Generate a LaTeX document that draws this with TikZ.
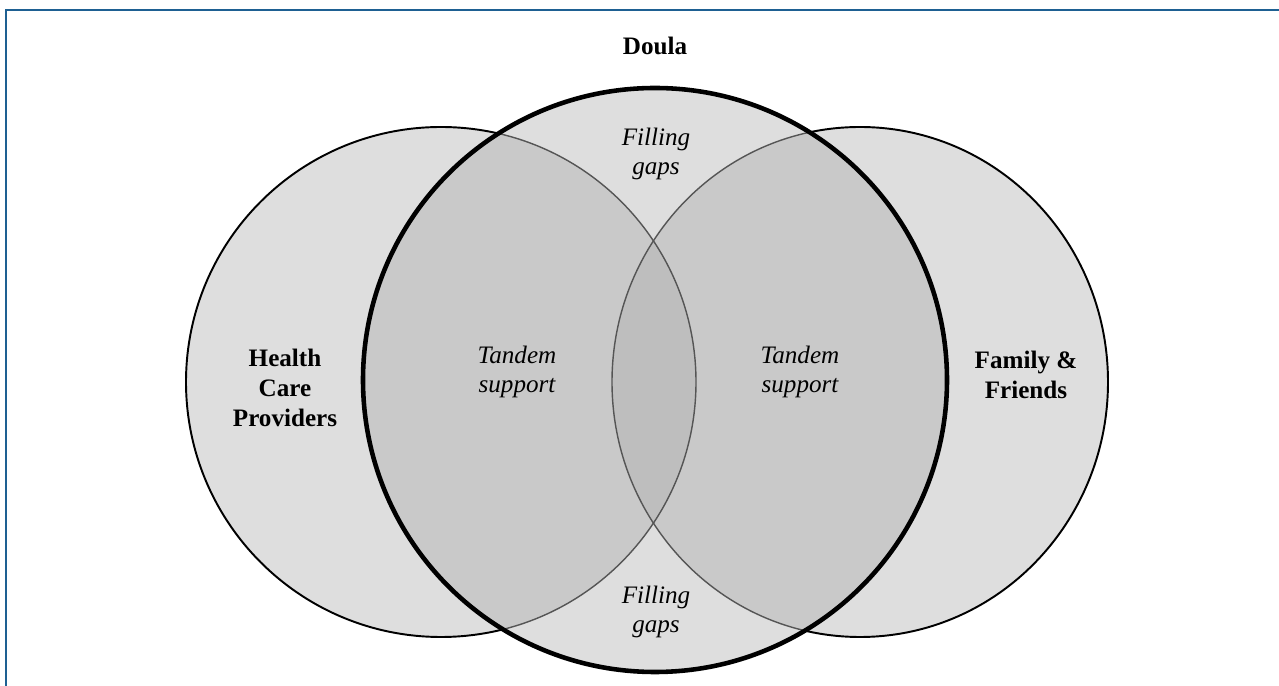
\documentclass[tikz,border=0pt]{standalone}
\usepackage{fontspec}
\setmainfont{Liberation Serif}
\definecolor{frameblue}{RGB}{30,96,146}
\definecolor{onefill}{RGB}{222,222,222}
\definecolor{twofill}{RGB}{201,201,201}
\definecolor{threefill}{RGB}{190,190,190}
\definecolor{innerline}{RGB}{85,85,85}

\begin{document}
\begin{tikzpicture}[x=0.02cm,y=0.02cm,
    group/.style ={align=center, font=\fontsize{14.3pt}{17pt}\selectfont\bfseries},
    role/.style ={align=center, font=\fontsize{14.3pt}{17pt}\selectfont\itshape},
    outer/.style ={draw=black, line width=1.1pt},
    inner/.style ={draw=innerline, line width=0.8pt}]
   \useasboundingbox (0,0) rectangle (1279,686);
   \draw[frameblue, line width=0.85pt] (6,0) -- (6,676) -- (1279,676);

   \coordinate (care) at (441,304);
   \coordinate (family) at (860,304);
   \coordinate (doula) at (655,306);

   % single areas
   \fill[onefill] (care) circle (255);
   \fill[onefill] (family) circle [x radius=248, y radius=255];
   \fill[onefill] (doula) circle (292);
   % overlaps
   \begin{scope}
     \clip (doula) circle (292);
     \fill[twofill] (care) circle (255);
     \fill[twofill] (family) circle [x radius=248, y radius=255];
     \clip (care) circle (255);
     \fill[threefill] (family) circle [x radius=248, y radius=255];
   \end{scope}

   % outlines
   \begin{scope}
     \clip (doula) circle (292);
     \draw[inner] (care) circle (255);
     \draw[inner] (family) circle [x radius=248, y radius=255];
   \end{scope}
   \begin{scope}[even odd rule]
     \clip (0,0) rectangle (1279,686) (doula) circle (292);
     \draw[outer] (care) circle (255);
     \draw[outer] (family) circle [x radius=248, y radius=255];
   \end{scope}
   \draw[line width=2.6pt] (doula) circle (292);

   \node[group] (title) at (655,640) {Doula};
   \node[group] (hcp) at (285,298) {Health\\Care\\Providers};
   \node[group] (ff) at (1026,311) {Family \&\\Friends};
   \node[role] (tandemL) at (517,314) {Tandem\\support};
   \node[role] (tandemR) at (800,314) {Tandem\\support};
   \node[role] (gapsT) at (656,532) {Filling\\gaps};
   \node[role] (gapsB) at (656,74) {Filling\\gaps};
 \end{tikzpicture}
\end{document}
